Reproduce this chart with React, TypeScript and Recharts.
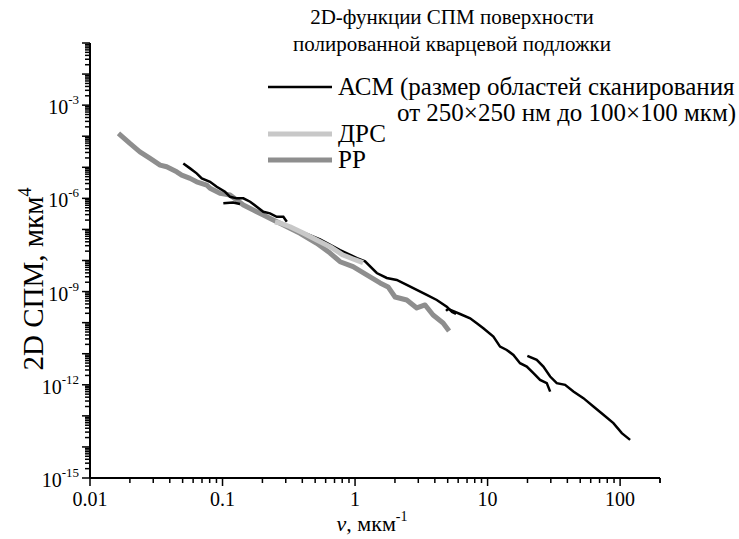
import React from "react";
import { LineChart, Line, XAxis, YAxis } from "recharts";

// РР (dark grey) – spatial frequency, мкм^-1 and 2D PSD, мкм^4
const rrNu = [0.0164, 0.02, 0.0238, 0.0284, 0.0338, 0.0379, 0.0451, 0.0492, 0.0569, 0.0638, 0.076, 0.0805, 0.0957, 0.114, 0.128, 0.1436, 0.1706, 0.2031, 0.2415, 0.2715, 0.323, 0.3843, 0.514, 0.6476, 0.7706, 0.9658, 1.225, 1.544, 1.775, 2.004, 2.456, 2.922, 3.377, 3.879, 4.616, 5.122];
const rrSpm = [1.23e-4, 5.86e-5, 3.15e-5, 1.93e-5, 1.18e-5, 1.04e-5, 7.16e-6, 5.61e-6, 4.4e-6, 3.42e-6, 2.68e-6, 2.1e-6, 1.45e-6, 1.28e-6, 8.81e-7, 6.09e-7, 4.21e-7, 2.91e-7, 2.01e-7, 1.57e-7, 1.08e-7, 7.5e-8, 3.57e-8, 1.74e-8, 9.14e-9, 6.32e-9, 3.42e-9, 1.89e-9, 1.41e-9, 6.7e-10, 5.37e-10, 2.97e-10, 3.71e-10, 1.77e-10, 9.78e-11, 5.41e-11];

// ДРС (light grey)
const drsNu = [0.2489, 0.2715, 0.323, 0.4055, 0.514, 0.6476, 0.8115, 0.9658, 1.149];
const drsSpm = [1.73e-7, 1.61e-7, 1.22e-7, 7.66e-8, 4.56e-8, 2.78e-8, 1.5e-8, 1.12e-8, 8.49e-9];

// АСМ – separate scan sizes
const acm1Nu = [0.0506, 0.0569, 0.0638, 0.0697, 0.0805, 0.0904, 0.1044, 0.114, 0.128, 0.1436, 0.1615, 0.1812, 0.2031, 0.2281, 0.2564, 0.2877, 0.3055];
const acm1Spm = [1.33e-5, 9.23e-6, 6.37e-6, 4.4e-6, 3.42e-6, 2.36e-6, 1.63e-6, 1.12e-6, 1.0e-6, 1.0e-6, 7.78e-7, 5.37e-7, 3.71e-7, 3.3e-7, 2.56e-7, 2.56e-7, 1.77e-7];

const acm2Nu = [0.1014, 0.12, 0.1355];
const acm2Spm = [6.9e-7, 7.33e-7, 6.56e-7];

const acm3Nu = [0.3843, 0.5445, 0.7706, 1.035, 1.19, 1.458, 1.735, 2.064, 2.456, 2.922, 3.475, 4.136, 4.92, 5.395, 5.781];
const acm3Spm = [8.8e-8, 4.8e-8, 2.15e-8, 1.2e-8, 9.4e-9, 3.96e-9, 2.74e-9, 2.36e-9, 1.63e-9, 1.13e-9, 7.78e-10, 5.37e-10, 3.27e-10, 2.21e-10, 1.9e-10];

const acm4Nu = [4.86, 5.035, 6.2, 7.38, 8.29, 9.29, 11.06, 12.42, 13.95, 15.66, 17.58, 19.76, 22.18, 24.9, 27.97, 29.66];
const acm4Spm = [2.38e-10, 2.76e-10, 1.9e-10, 1.38e-10, 9.57e-11, 6.61e-11, 3.55e-11, 1.69e-11, 1.32e-11, 9.14e-12, 4.95e-12, 3.85e-12, 2.36e-12, 1.44e-12, 1.13e-12, 6.04e-13];

const acm5Nu = [19.96, 23.49, 26.36, 29.66, 33.27, 38.46, 44.42, 52.85, 62.88, 74.82, 89.02, 103.0, 119.0];
const acm5Spm = [8.49e-12, 6.32e-12, 3.85e-12, 1.84e-12, 1.13e-12, 9.93e-13, 6.04e-13, 3.71e-13, 1.99e-13, 1.08e-13, 5.82e-14, 2.78e-14, 1.69e-14];

// axes
const xMajorTicks = [0.01, 0.1, 1, 10, 100];
const xTickLabels = ["0.01", "0.1", "1", "10", "100"];
const yLabelExps = [-15, -12, -9, -6, -3];

const FONT = "'Liberation Serif', 'Times New Roman', serif";
const ACM_W = 2.5;

const pts = (nu: number[], s: number[]) => nu.map((x, i) => ({ x, y: s[i] }));

const xTicks: number[] = [];
for (let e = -2; e <= 2; e++) {
  for (let m = 1; m <= 9; m++) {
    const v = Number(`${m}e${e}`);
    if (v <= 200) xTicks.push(v);
  }
}
xTicks.push(200);

const yTicks: number[] = [];
for (let e = -15; e <= -2; e++) {
  for (let m = 1; m <= 9; m++) yTicks.push(Number(`${m}e${e}`));
}
yTicks.push(0.1);

const isDecade = (v: number) => {
  const lg = Math.log10(v);
  return Math.abs(lg - Math.round(lg)) < 1e-6;
};

const XTick = (props: any) => {
  const { x, y, payload } = props;
  const v = payload.value;
  const major = isDecade(v);
  const idx = xMajorTicks.findIndex((t) => Math.abs(t - v) / t < 1e-6);
  return (
    <g>
      <line x1={x} x2={x} y1={y} y2={y + (major ? 8 : 5)} stroke="#000" strokeWidth={1.5} />
      {idx >= 0 && (
        <text x={x} y={y + 28} textAnchor="middle" fontFamily={FONT} fontSize={20} fill="#000">
          {xTickLabels[idx]}
        </text>
      )}
    </g>
  );
};

const YTick = (props: any) => {
  const { x, y, payload } = props;
  const v = payload.value;
  const major = isDecade(v);
  const e = Math.round(Math.log10(v));
  const show = major && yLabelExps.includes(e);
  return (
    <g>
      <line x1={x} x2={x - (major ? 8 : 5)} y1={y} y2={y} stroke="#000" strokeWidth={1.5} />
      {show && (
        <text x={x - 11} y={y + 9} textAnchor="end" fontFamily={FONT} fontSize={20} fill="#000">
          10
          <tspan dy={-10} fontSize={13}>{String(e)}</tspan>
        </text>
      )}
    </g>
  );
};

export default function App() {
  return (
    <div style={{ position: "absolute", left: 0, top: 0, width: 739, height: 539, background: "#fff" }}>
      <LineChart width={739} height={539} margin={{ top: 43, right: 79, bottom: 31, left: 30 }}>
        <XAxis
          type="number"
          dataKey="x"
          scale="log"
          domain={[0.01, 200]}
          allowDataOverflow
          ticks={xTicks}
          interval={0}
          tickSize={0}
          tickMargin={0}
          tickLine={false}
          tick={(p: any) => <XTick {...p} />}
          axisLine={{ stroke: "#000", strokeWidth: 2 }}
          height={30}
        />
        <YAxis
          type="number"
          dataKey="y"
          scale="log"
          domain={[1e-15, 1e-1]}
          allowDataOverflow
          ticks={yTicks}
          interval={0}
          tickSize={0}
          tickMargin={0}
          tickLine={false}
          tick={(p: any) => <YTick {...p} />}
          axisLine={{ stroke: "#000", strokeWidth: 2 }}
          width={60}
        />
        <Line data={pts(rrNu, rrSpm)} dataKey="y" stroke="#8e8e8e" strokeWidth={5} dot={false} isAnimationActive={false} strokeLinejoin="round" />
        <Line data={pts(acm1Nu, acm1Spm)} dataKey="y" stroke="#000" strokeWidth={ACM_W} dot={false} isAnimationActive={false} />
        <Line data={pts(acm2Nu, acm2Spm)} dataKey="y" stroke="#000" strokeWidth={ACM_W} dot={false} isAnimationActive={false} />
        <Line data={pts(acm3Nu, acm3Spm)} dataKey="y" stroke="#000" strokeWidth={ACM_W} dot={false} isAnimationActive={false} />
        <Line data={pts(drsNu, drsSpm)} dataKey="y" stroke="#c8c8c8" strokeWidth={5} dot={false} isAnimationActive={false} strokeLinejoin="round" />
        <Line data={pts(acm4Nu, acm4Spm)} dataKey="y" stroke="#000" strokeWidth={ACM_W} dot={false} isAnimationActive={false} />
        <Line data={pts(acm5Nu, acm5Spm)} dataKey="y" stroke="#000" strokeWidth={ACM_W} dot={false} isAnimationActive={false} />
      </LineChart>
      <svg width={739} height={539} style={{ position: "absolute", left: 0, top: 0, pointerEvents: "none" }}>
        <g fontFamily={FONT} fill="#000">
          <text x={452} y={24} fontSize={21} textAnchor="middle">2D-функции СПМ поверхности</text>
          <text x={452} y={51} fontSize={21} textAnchor="middle">полированной кварцевой подложки</text>
          <line x1={268} x2={332} y1={87} y2={87} stroke="#000" strokeWidth={ACM_W} />
          <text x={338} y={95} fontSize={25}>АСМ (размер областей сканирования</text>
          <text x={397} y={121} fontSize={25}>от 250×250 нм до 100×100 мкм)</text>
          <line x1={268} x2={332} y1={134} y2={134} stroke="#c8c8c8" strokeWidth={5} />
          <text x={338} y={142} fontSize={25}>ДРС</text>
          <line x1={268} x2={332} y1={160} y2={160} stroke="#8e8e8e" strokeWidth={5} />
          <text x={338} y={168} fontSize={25}>РР</text>
          <text x={372} y={531} fontSize={22} textAnchor="middle">
            <tspan fontStyle="italic">ν</tspan>, мкм<tspan dy={-10} fontSize={14}>-1</tspan>
          </text>
          <text transform="translate(43 279) rotate(-90)" fontSize={29} textAnchor="middle">
            2D СПМ, мкм<tspan dy={-12} fontSize={18}>4</tspan>
          </text>
        </g>
      </svg>
    </div>
  );
}
